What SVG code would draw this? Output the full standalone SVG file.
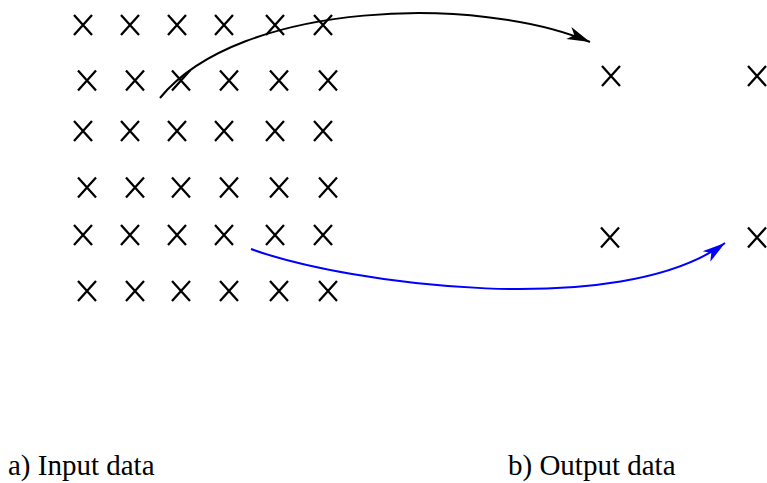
<svg xmlns="http://www.w3.org/2000/svg" width="767" height="483" viewBox="0 0 767 483">
  <style>
    .pt { fill: none; stroke: #000; stroke-width: 2.3; }
    .cap { font-family: "Liberation Serif", "Times New Roman", serif; font-size: 29px; fill: #000; }
    .link { fill: none; stroke-width: 2; }
  </style>
  <defs>
    <!-- cross marker for a sample point -->
    <path id="cross" class="pt" d="M-9,-10 L9,10 M9,-10 L-9,10"/>
    <marker id="headBlack" markerUnits="userSpaceOnUse" markerWidth="26" markerHeight="16" refX="23" refY="8" orient="auto">
      <path d="M0,1.5 L23,8 L0,14.5 L6,8 Z" fill="#000"/>
    </marker>
    <marker id="headBlue" markerUnits="userSpaceOnUse" markerWidth="26" markerHeight="16" refX="23" refY="8" orient="auto">
      <path d="M0,1.5 L23,8 L0,14.5 L6,8 Z" fill="#0000ff"/>
    </marker>
  </defs>

  <!-- input grid: 6 x 6 sample points -->
  <g id="input-grid">
    <use href="#cross" x="83" y="25"/><use href="#cross" x="130" y="25"/><use href="#cross" x="177" y="25"/><use href="#cross" x="224" y="25"/><use href="#cross" x="275" y="25"/><use href="#cross" x="323" y="25"/>
    <use href="#cross" x="87" y="80.5"/><use href="#cross" x="135" y="80.5"/><use href="#cross" x="181" y="80.5"/><use href="#cross" x="229" y="80.5"/><use href="#cross" x="279" y="80.5"/><use href="#cross" x="328" y="80.5"/>
    <use href="#cross" x="83" y="131"/><use href="#cross" x="130" y="131"/><use href="#cross" x="177" y="131"/><use href="#cross" x="224" y="131"/><use href="#cross" x="275" y="131"/><use href="#cross" x="323" y="131"/>
    <use href="#cross" x="87" y="187.5"/><use href="#cross" x="135" y="187.5"/><use href="#cross" x="181" y="187.5"/><use href="#cross" x="229" y="187.5"/><use href="#cross" x="279" y="187.5"/><use href="#cross" x="328" y="187.5"/>
    <use href="#cross" x="83" y="235"/><use href="#cross" x="130" y="235"/><use href="#cross" x="177" y="235"/><use href="#cross" x="224" y="235"/><use href="#cross" x="275" y="235"/><use href="#cross" x="323" y="235"/>
    <use href="#cross" x="87" y="291"/><use href="#cross" x="135" y="291"/><use href="#cross" x="181" y="291"/><use href="#cross" x="229" y="291"/><use href="#cross" x="279" y="291"/><use href="#cross" x="328" y="291"/>
  </g>

  <!-- output grid: 2 x 2 sample points -->
  <g id="output-grid">
    <use href="#cross" x="611" y="76"/><use href="#cross" x="757" y="76"/>
    <use href="#cross" x="610" y="237.5"/><use href="#cross" x="757" y="237.5"/>
  </g>

  <!-- mapping arrows -->
  <g id="connectors">
    <path class="link" stroke="#000" d="M160,98 C240,0 480,-5 590,42" marker-end="url(#headBlack)"/>
    <path class="link" stroke="#0000ff" stroke-width="2.5" d="M251,249 C350,285 620,320 725,243" marker-end="url(#headBlue)"/>
  </g>

  <!-- captions -->
  <g id="labels">
    <text class="cap" x="8" y="475">a) Input data</text>
    <text class="cap" x="508" y="475">b) Output data</text>
  </g>
</svg>
